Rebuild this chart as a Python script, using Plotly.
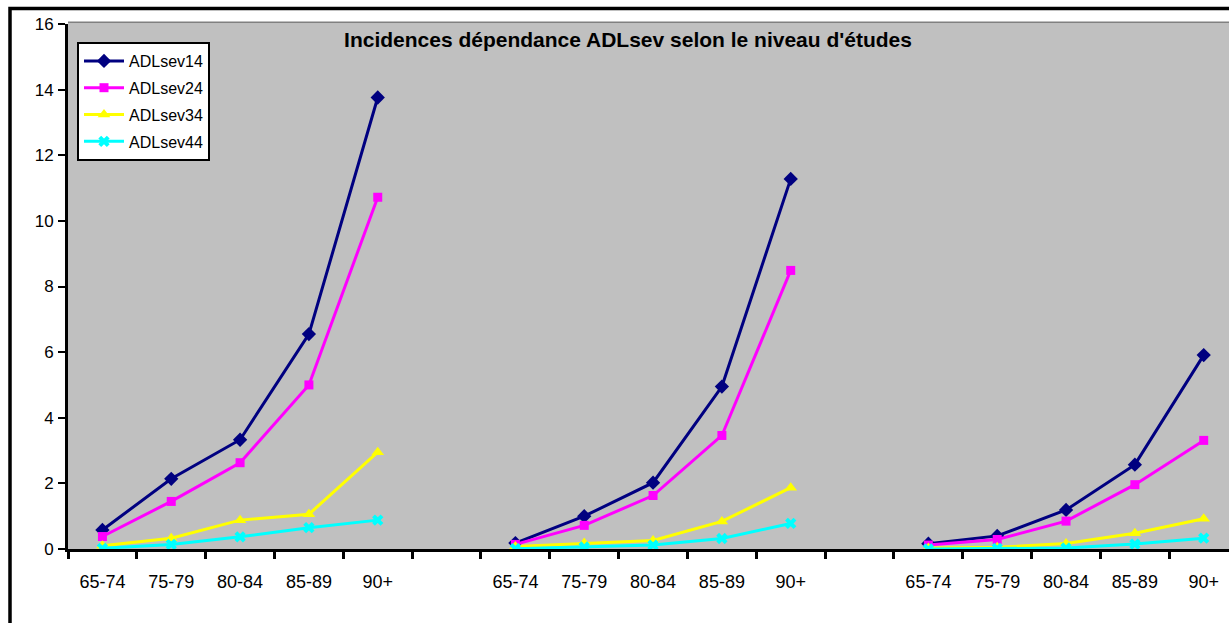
import plotly.graph_objects as go

# Age bands repeated for each education level, separated by an empty slot
age_groups = ["65-74", "75-79", "80-84", "85-89", "90+"]
n_levels = 3

# Incidence values, education levels 1..3 concatenated (5 age bands each)
adlsev14 = [0.58, 2.14, 3.33, 6.55, 13.76,
            0.18, 1.00, 2.02, 4.95, 11.28,
            0.16, 0.40, 1.19, 2.57, 5.91]
adlsev24 = [0.38, 1.45, 2.63, 5.00, 10.72,
            0.14, 0.72, 1.63, 3.46, 8.49,
            0.12, 0.29, 0.85, 1.96, 3.31]
adlsev34 = [0.10, 0.33, 0.88, 1.06, 2.95,
            0.08, 0.18, 0.26, 0.84, 1.87,
            0.03, 0.05, 0.17, 0.48, 0.92]
adlsev44 = [0.02, 0.14, 0.37, 0.65, 0.88,
            0.01, 0.06, 0.12, 0.32, 0.78,
            0.00, 0.02, 0.03, 0.15, 0.33]

series = [
    ("ADLsev14", adlsev14, "#000080", "diamond", 11),
    ("ADLsev24", adlsev24, "#FF00FF", "square", 9),
    ("ADLsev34", adlsev34, "#FFFF00", "triangle-up", 11),
    ("ADLsev44", adlsev44, "#00FFFF", "x", 10),
]

step = len(age_groups) + 1          # one blank slot between levels

def spread(values):
    """Place the concatenated values on the slotted x axis, leaving gaps."""
    xs, ys = [], []
    for g in range(n_levels):
        for i in range(len(age_groups)):
            xs.append(g * step + i)
            ys.append(values[g * len(age_groups) + i])
        if g < n_levels - 1:
            xs.append(g * step + len(age_groups))
            ys.append(None)
    return xs, ys

FONT = "Liberation Sans, Arial, sans-serif"

fig = go.Figure()
for k, (name, vals, color, symbol, size) in enumerate(series):
    xs, ys = spread(vals)
    fig.add_trace(go.Scatter(
        x=xs, y=ys, name=name, mode="lines+markers",
        line=dict(color=color, width=3),
        marker=dict(symbol=symbol, size=size, color=color,
                    line=dict(width=0)),
        connectgaps=False, legendgroup=f"g{k}",
    ))

tick_pos = [g * step + i for g in range(n_levels) for i in range(len(age_groups))]
tick_txt = age_groups * n_levels

W, H = 1229, 623
L, T, B = 68, 24, 74
plot_w = W - L
plot_h = H - T - B
slot_px = 68.83
x_hi = -0.5 + plot_w / slot_px

fig.update_layout(
    width=W, height=H,
    margin=dict(l=L, r=0, t=T, b=B, pad=0),
    paper_bgcolor="white",
    plot_bgcolor="#C0C0C0",
    font=dict(family=FONT, color="black"),
    title=dict(
        text="<b>Incidences dépendance ADLsev selon le niveau d'études</b>",
        font=dict(family=FONT, size=21, color="black"),
        x=628 / W, xanchor="center", xref="container",
        y=1 - 40 / H, yanchor="middle", yref="container",
    ),
    showlegend=True,
    legend=dict(
        x=(77 - L) / plot_w, y=1 - (42 - T) / plot_h,
        xanchor="left", yanchor="top",
        bgcolor="white", bordercolor="black", borderwidth=2,
        font=dict(family=FONT, size=16, color="black"),
        itemwidth=40, traceorder="grouped", tracegroupgap=3,
    ),
    xaxis=dict(
        range=[-0.5, x_hi],
        tickmode="array", tickvals=tick_pos, ticktext=tick_txt,
        ticks="", ticklabelstandoff=14,
        tickfont=dict(family=FONT, size=18, color="black"),
        showgrid=False, zeroline=False,
        showline=True, linecolor="black", linewidth=3,
        minor=dict(tickmode="linear", tick0=-0.5, dtick=1,
                   ticks="outside", ticklen=7, tickwidth=3,
                   tickcolor="black", showgrid=False),
    ),
    yaxis=dict(
        range=[0, 16], dtick=2, tick0=0,
        ticks="outside", ticklen=7, tickwidth=2, tickcolor="black",
        tickfont=dict(family=FONT, size=17, color="black"),
        ticklabelstandoff=1,
        showgrid=False, zeroline=False,
        showline=True, linecolor="black", linewidth=3,
    ),
    shapes=[
        # grey top edge of the plot area
        dict(type="line", xref="paper", yref="paper",
             x0=0, x1=1.1, y0=1 + 1.5 / plot_h, y1=1 + 1.5 / plot_h,
             line=dict(color="#808080", width=2)),
        # outer chart frame
        dict(type="rect", xref="paper", yref="paper",
             x0=(10 - L) / plot_w, x1=1.2,
             y0=-0.5, y1=1 + (T - 8.5) / plot_h,
             line=dict(color="black", width=3.5), fillcolor="rgba(0,0,0,0)"),
    ],
)

fig.write_html("out.html")
